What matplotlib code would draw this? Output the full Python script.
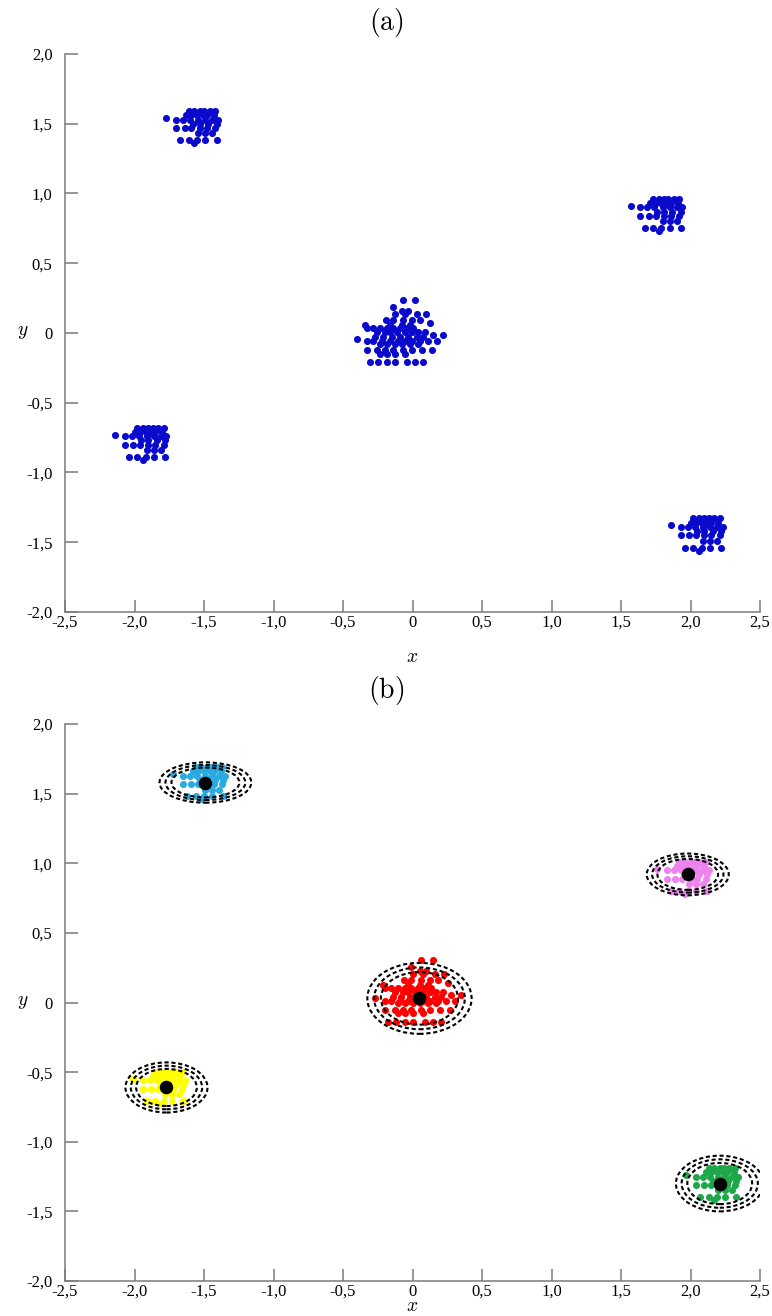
#!/usr/bin/env python
# -*- coding: utf8 -*-
import numpy as np
import matplotlib.pyplot as plt
from matplotlib.patches import Ellipse
from matplotlib.ticker import FuncFormatter, MultipleLocator

plt.rcParams['mathtext.fontset'] = 'cm'
plt.rcParams['font.family'] = ['Liberation Serif', 'DejaVu Serif']

# offsets of the points in a small cluster, relative to its centre
small_dx = [-0.11, -0.07, -0.03, 0.00, 0.04, 0.08,
            -0.13, -0.09, -0.05, -0.01, 0.02, 0.07,
            -0.27, -0.20, -0.15, -0.10, -0.04, 0.01, 0.06, 0.10,
            -0.08, -0.03, 0.03, 0.09,
            -0.20, -0.14, -0.09, -0.03, 0.02, 0.08,
            -0.04, 0.01, 0.06,
            -0.17, -0.11, -0.05, 0.01, 0.09,
            -0.07]
small_dy = [0.09, 0.09, 0.09, 0.09, 0.09, 0.09,
            0.06, 0.06, 0.06, 0.06, 0.06, 0.06,
            0.04, 0.03, 0.03, 0.03, 0.03, 0.03, 0.03, 0.03,
            0.00, 0.00, 0.00, 0.00,
            -0.03, -0.03, -0.03, -0.03, -0.03, -0.03,
            -0.07, -0.07, -0.07,
            -0.12, -0.12, -0.12, -0.12, -0.12,
            -0.14]

# offsets of the points in the big central cluster
big_dx = [-0.066, 0.018,
          -0.138,
          -0.078, -0.030,
          -0.126, -0.054, 0.035, 0.097,
          -0.191, -0.138, -0.066, -0.006, 0.054,
          0.126,
          -0.342, -0.162, -0.078, -0.018,
          -0.330, -0.282, -0.234, -0.186, -0.138, -0.090, -0.042, 0.006,
          -0.258, -0.198, -0.162, -0.114, -0.054, -0.006, 0.042, 0.090,
          0.150, 0.222,
          -0.270, -0.210, -0.150, -0.090, -0.030, 0.030, 0.078,
          -0.397,
          -0.330, -0.282, -0.222, -0.162, -0.102, -0.054, -0.006, 0.054,
          0.114, 0.174,
          -0.234, -0.186, -0.126, -0.078, -0.018, 0.042,
          -0.325, -0.258, -0.198, -0.138, -0.066, -0.006, 0.066, 0.138,
          -0.234, -0.186, -0.126, -0.054,
          -0.306, -0.246, -0.186, -0.126, -0.042, 0.018, 0.078]
big_dy = [0.236, 0.236,
          0.188,
          0.159, 0.159,
          0.135, 0.135, 0.135, 0.135,
          0.092, 0.092, 0.092, 0.092, 0.092,
          0.073,
          0.056, 0.056, 0.056, 0.056,
          0.032, 0.032, 0.032, 0.032, 0.032, 0.032, 0.032, 0.032,
          0.008, 0.008, 0.008, 0.008, 0.008, 0.008, 0.008, 0.008,
          -0.016, -0.016,
          -0.028, -0.028, -0.028, -0.028, -0.028, -0.028, -0.028,
          -0.040,
          -0.057, -0.057, -0.057, -0.057, -0.057, -0.057, -0.057, -0.057,
          -0.057, -0.057,
          -0.076, -0.076, -0.076, -0.076, -0.076, -0.076,
          -0.124, -0.124, -0.124, -0.124, -0.124, -0.124, -0.124, -0.124,
          -0.148, -0.148, -0.148, -0.148,
          -0.208, -0.208, -0.208, -0.208, -0.208, -0.208, -0.208]

# (a) raw data: cluster centres
raw_cx = [-1.50, 1.84, -1.87, 2.13, 0.00]
raw_cy = [1.50, 0.87, -0.77, -1.42, 0.00]
raw_big = [False, False, False, False, True]

# (b) clustered data: point centres, estimated means, ellipse sizes
clus_names = ['cyan', 'pink', 'red', 'yellow', 'green']
clus_colors = ['#29abe2', '#ee82ee', '#ff0000', '#ffff00', '#1fa84a']
clus_cx = [-1.45, 2.03, 0.13, -1.74, 2.24]
clus_cy = [1.60, 0.92, 0.07, -0.59, -1.28]
clus_big = [False, False, True, False, False]
mean_x = [-1.49, 1.98, 0.05, -1.77, 2.21]
mean_y = [1.58, 0.92, 0.03, -0.61, -1.30]
ell_w = [0.66, 0.59, 0.75, 0.59, 0.63]
ell_h = [0.29, 0.30, 0.51, 0.36, 0.40]
ell_scale = [1.0, 0.87, 0.74]


def comma(v, pos):
    if abs(v) < 1e-9:
        return '0'
    return '{:.1f}'.format(v).replace('.', ',')


def style_axes(ax):
    ax.set_xlim(-2.5, 2.5)
    ax.set_ylim(-2.0, 2.0)
    for side in ['top', 'right']:
        ax.spines[side].set_visible(False)
    for side in ['left', 'bottom']:
        ax.spines[side].set_color('#7a7a7a')
        ax.spines[side].set_linewidth(1.1)
    ax.xaxis.set_major_locator(MultipleLocator(0.5))
    ax.yaxis.set_major_locator(MultipleLocator(0.5))
    ax.xaxis.set_major_formatter(FuncFormatter(comma))
    ax.yaxis.set_major_formatter(FuncFormatter(comma))
    ax.tick_params(direction='in', length=9, width=1.1, color='#7a7a7a',
                   labelsize=12)
    ax.tick_params(axis='x', pad=2)
    ax.tick_params(axis='y', pad=9)
    ax.set_xlabel('$x$', fontsize=14)
    ax.set_ylabel('$y$', fontsize=14, rotation=0, va='center')
    ax.yaxis.set_label_coords(-0.061, 0.5)


def cluster(cx, cy, big):
    if big:
        return cx + np.array(big_dx), cy + np.array(big_dy)
    return cx + np.array(small_dx), cy + np.array(small_dy)


fig = plt.figure(figsize=(7.72, 13.16), dpi=100)
ax1 = fig.add_axes([0.0842, 0.535, 0.9003, 0.424])
ax2 = fig.add_axes([0.0842, 0.0266, 0.9003, 0.4232])

# (a) all points in one colour
for cx, cy, big in zip(raw_cx, raw_cy, raw_big):
    px, py = cluster(cx, cy, big)
    ax1.scatter(px, py, s=26, color='#0a0acd', linewidths=0, zorder=2)
style_axes(ax1)
ax1.xaxis.set_label_coords(0.5, -0.067)

# (b) points coloured by cluster with mean and dashed contours
for i in range(len(clus_names)):
    px, py = cluster(clus_cx[i], clus_cy[i], clus_big[i])
    ax2.scatter(px, py, s=26, color=clus_colors[i], linewidths=0, zorder=2)
    for k in ell_scale:
        e = Ellipse((mean_x[i], mean_y[i]), ell_w[i] * k, ell_h[i] * k,
                    fill=False, edgecolor='black', linewidth=1.5,
                    linestyle=(0, (2.0, 1.3)), zorder=3)
        ax2.add_patch(e)
    ax2.scatter([mean_x[i]], [mean_y[i]], s=95, color='black',
                linewidths=0, zorder=4)
style_axes(ax2)
ax2.xaxis.set_label_coords(0.5, -0.031)

fig.text(0.5, 0.983, r'$\mathrm{(a)}$', fontsize=20, ha='center', va='center')
fig.text(0.5, 0.475, r'$\mathrm{(b)}$', fontsize=20, ha='center', va='center')

fig.savefig('out.png', dpi=100)
